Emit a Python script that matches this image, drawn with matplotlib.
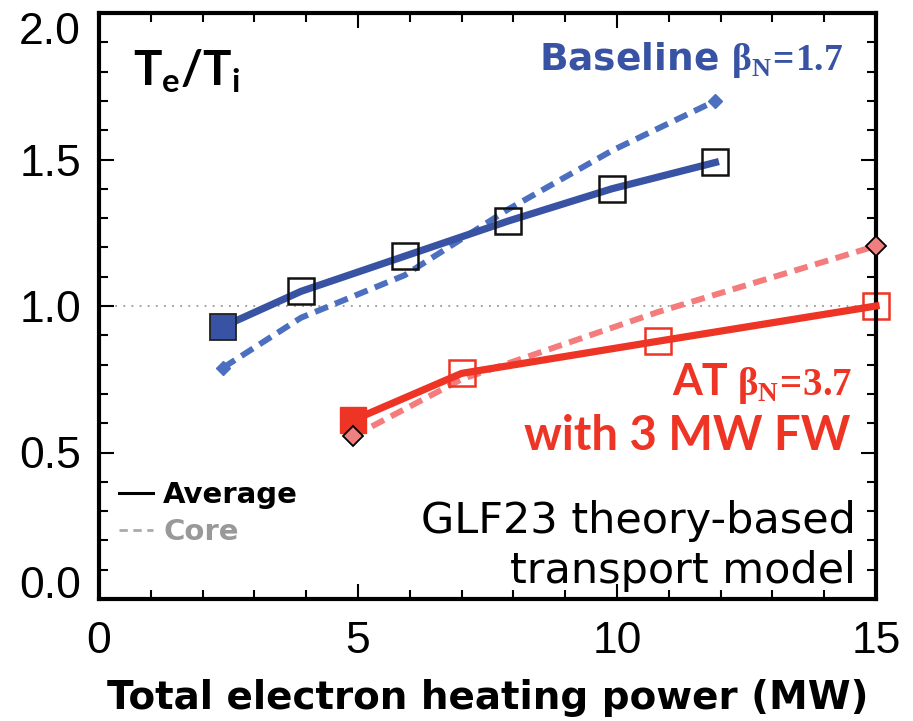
import matplotlib
matplotlib.use("Agg")
import matplotlib.pyplot as plt
import matplotlib.transforms as mtransforms
from matplotlib.lines import Line2D
from matplotlib.ticker import MultipleLocator, FormatStrFormatter

plt.rcParams["mathtext.fontset"] = "custom"
plt.rcParams["mathtext.rm"] = "Liberation Serif:bold"
plt.rcParams["mathtext.bf"] = "Lato:bold"
plt.rcParams["mathtext.it"] = "Lato:bold"

# Baseline scenario (beta_N = 1.7)
power_baseline = [2.4, 3.9, 5.9, 7.9, 9.9, 11.9]
ratio_baseline_avg = [0.93, 1.05, 1.17, 1.29, 1.40, 1.49]
ratio_baseline_core = [0.79, 0.96, 1.105, 1.33, 1.53, 1.70]

# Advanced tokamak scenario (beta_N = 3.7, with 3 MW fast wave)
power_at = [4.9, 7.0, 10.8, 15.0]
ratio_at_avg = [0.61, 0.77, 0.88, 1.00]
ratio_at_core = [0.555, 0.75, 0.98, 1.205]

x_ticks = [0, 5, 10, 15]
y_ticks = [0.0, 0.5, 1.0, 1.5, 2.0]

BLUE = "#3953A4"
BLUE_LIGHT = "#4C70BF"
RED = "#EE3424"
RED_LIGHT = "#F47C7C"
GEO = "Lato"
WIDE = "DejaVu Sans"

fig = plt.figure(figsize=(9.13, 7.21), dpi=100)
ax = fig.add_axes([99 / 913, 1 - 599 / 721, 777 / 913, 586 / 721])

ax.set_xlim(0, 15)
ax.set_ylim(0, 2.0)

# reference level Te = Ti
ax.axhline(1.0, color="#9A9A9A", lw=1.3, ls=(0, (1, 3.5)), zorder=1)

# baseline: core (dashed) and average (solid)
ax.plot(power_baseline, ratio_baseline_core, color=BLUE_LIGHT, lw=4.3,
        dashes=(2.3, 1.3), zorder=2)
ax.plot([power_baseline[0], power_baseline[-1]],
        [ratio_baseline_core[0], ratio_baseline_core[-1]], ls="none",
        marker="D", ms=7.5, color=BLUE_LIGHT, zorder=3)
ax.plot(power_baseline, ratio_baseline_avg, color=BLUE, lw=5.2, zorder=3)
ax.plot(power_baseline[1:], ratio_baseline_avg[1:], ls="none", marker="s",
        ms=19, mfc="none", mec="#111111", mew=1.8, zorder=4)
ax.plot(power_baseline[:1], ratio_baseline_avg[:1], ls="none", marker="s",
        ms=19, mfc=BLUE, mec="#222222", mew=1.3, zorder=4)

# AT: core (dashed) and average (solid)
ax.plot(power_at, ratio_at_core, color=RED_LIGHT, lw=4.3,
        dashes=(2.3, 1.3), zorder=2, clip_on=False)
ax.plot(power_at, ratio_at_avg, color=RED, lw=5.2, zorder=3, clip_on=False)
ax.plot(power_at[1:], ratio_at_avg[1:], ls="none", marker="s", ms=19,
        mfc="none", mec=RED, mew=1.8, zorder=2, clip_on=False)
ax.plot(power_at[:1], ratio_at_avg[:1], ls="none", marker="s", ms=19,
        mfc=RED, mec=RED, mew=1.0, zorder=4)
ax.plot([power_at[0], power_at[-1]], [ratio_at_core[0], ratio_at_core[-1]],
        ls="none", marker="D", ms=10.5, mfc="#F08080", mec="black", mew=1.3,
        zorder=5, clip_on=False)

# axes styling
for s in ax.spines.values():
    s.set_linewidth(3.0)
ax.xaxis.set_major_locator(MultipleLocator(5))
ax.xaxis.set_minor_locator(MultipleLocator(1))
ax.yaxis.set_major_locator(MultipleLocator(0.5))
ax.yaxis.set_minor_locator(MultipleLocator(0.1))
ax.set_xticks(x_ticks)
ax.set_yticks(y_ticks)
ax.xaxis.set_major_formatter(FormatStrFormatter("%d"))
ax.yaxis.set_major_formatter(FormatStrFormatter("%.1f"))
ax.tick_params(which="both", direction="in", top=True, right=True, width=1.5)
ax.tick_params(which="major", length=11)
ax.tick_params(which="minor", length=6.5)
ax.tick_params(axis="y", which="major", pad=13)
ax.tick_params(axis="x", which="major", pad=16)
for lab in ax.get_xticklabels() + ax.get_yticklabels():
    lab.set_fontfamily("Liberation Sans")
    lab.set_fontsize(32)

# nudge the end labels of the y axis inward
ylabels = ax.get_yticklabels()
ylabels[0].set_transform(ylabels[0].get_transform() +
                         mtransforms.ScaledTranslation(0, 17 / 100, fig.dpi_scale_trans))
ylabels[-1].set_transform(ylabels[-1].get_transform() +
                          mtransforms.ScaledTranslation(0, -15 / 100, fig.dpi_scale_trans))

ax.set_xlabel("Total electron heating power (MW)", fontfamily=WIDE,
              fontweight="bold", fontsize=28, labelpad=12)

# annotations
ax.text(0.044, 0.877, r"$\mathbf{T_e/T_i}$", transform=ax.transAxes,
        fontsize=34, va="baseline", ha="left", color="black")
ax.text(0.9575, 0.903, r"Baseline $\mathrm{β}_\mathrm{N}\!=\!\mathrm{1.7}$",
        transform=ax.transAxes, fontfamily=WIDE, fontweight="bold",
        fontsize=27, color=BLUE, ha="right", va="baseline")
ax.text(0.809, 0.348, "AT", transform=ax.transAxes, fontfamily=GEO,
        fontweight="bold", fontsize=31, color=RED, ha="right", va="baseline")
ax.text(0.821, 0.348, r"$\mathrm{β}_\mathrm{N}\!=\!\mathrm{3.7}$",
        transform=ax.transAxes, fontsize=28, color=RED, ha="left",
        va="baseline")
ax.text(0.9665, 0.254, "with 3 MW FW", transform=ax.transAxes,
        fontfamily=GEO, fontweight="bold", fontsize=34, color=RED,
        ha="right", va="baseline")
ax.text(0.974, 0.113, "GLF23 theory-based", transform=ax.transAxes,
        fontfamily=WIDE, fontsize=31, color="black", ha="right", va="baseline")
ax.text(0.974, 0.027, "transport model", transform=ax.transAxes,
        fontfamily=WIDE, fontsize=31, color="black", ha="right", va="baseline")

handles = [Line2D([], [], color="black", lw=2.2),
           Line2D([], [], color="#AAAAAA", lw=2.0, ls=(0, (3, 2)))]
ax.legend(handles, ["Average", "Core"], loc="upper left",
          bbox_to_anchor=(0.0, 0.236), frameon=False, handlelength=1.15,
          handletextpad=0.35, labelspacing=0.32, borderaxespad=0.3,
          labelcolor=["black", "#999999"],
          prop={"family": WIDE, "weight": "bold", "size": 21})

fig.savefig("out.png", dpi=100)
